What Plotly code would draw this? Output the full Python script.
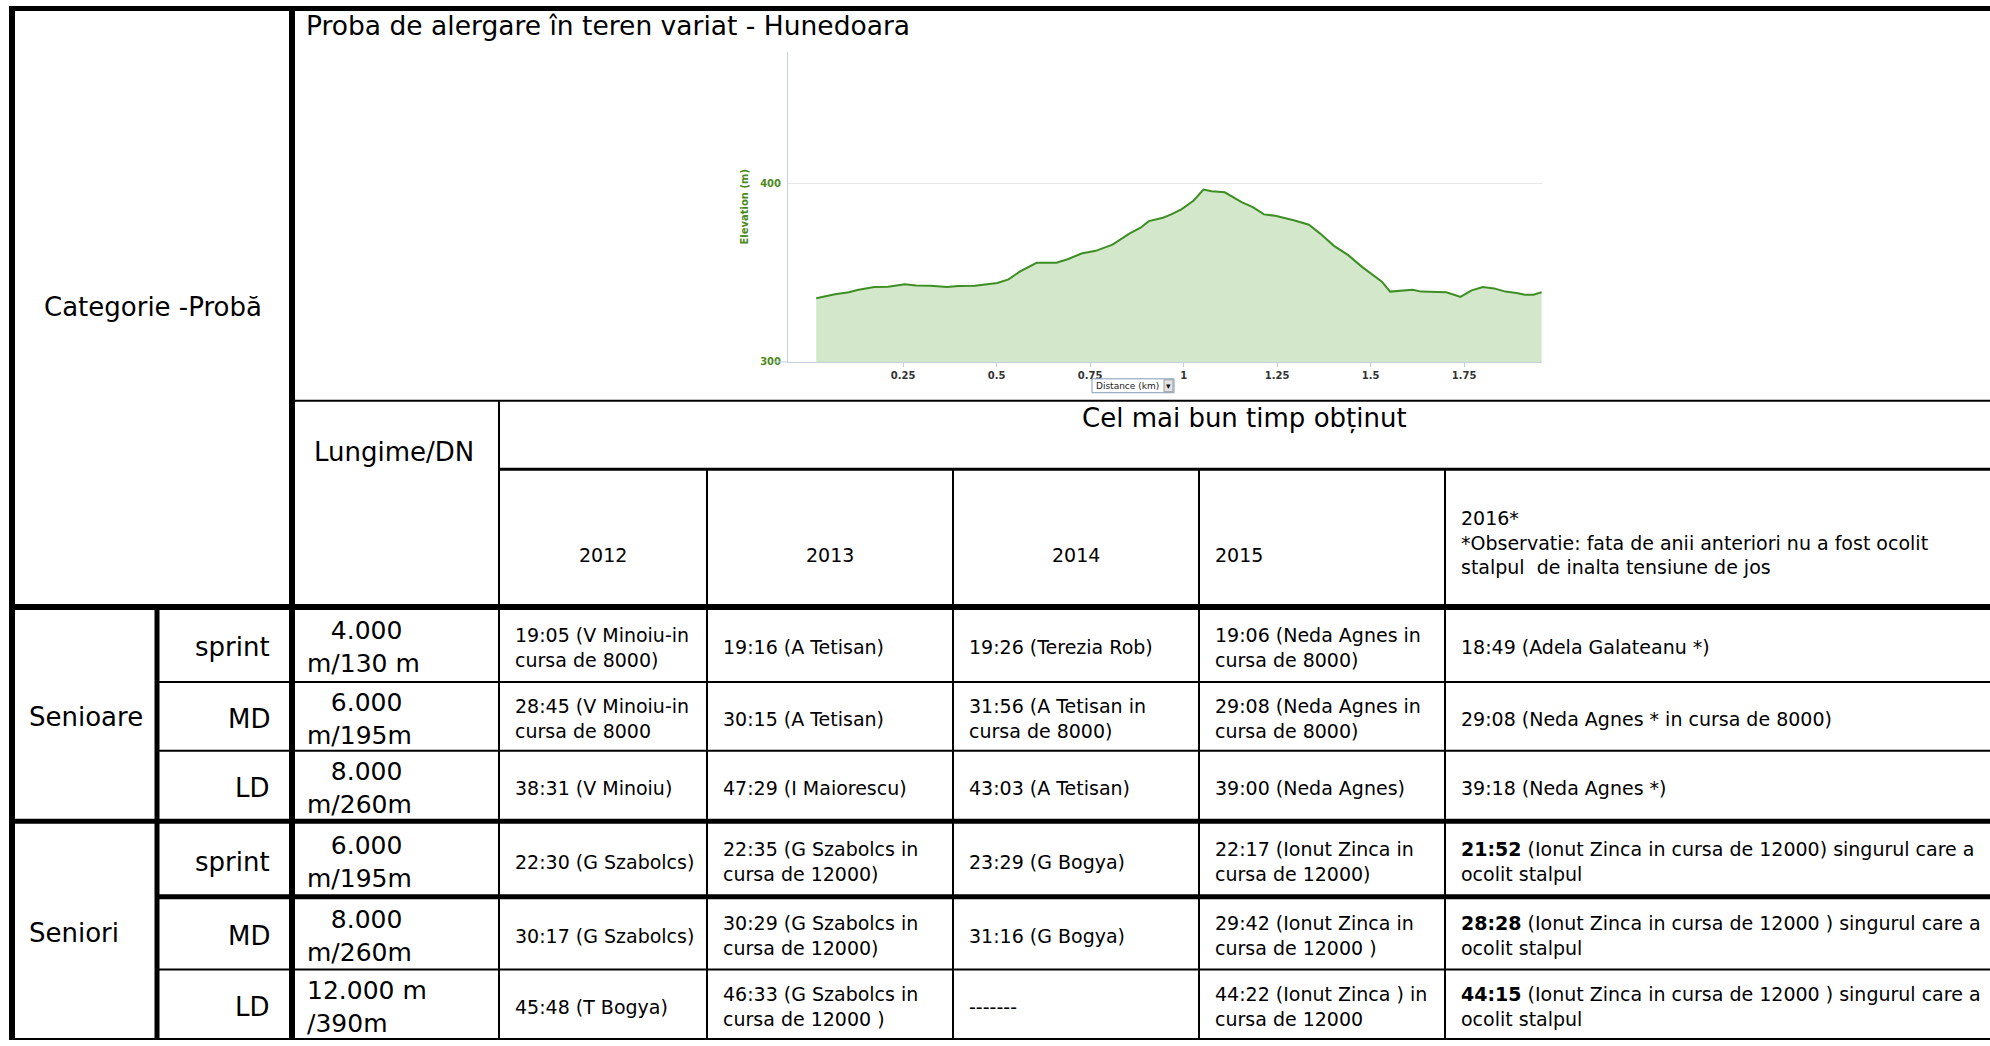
import plotly.graph_objects as go

W, H = 1990, 1046

# ---------------- data ----------------
distance_km = [0.018, 0.068, 0.105, 0.128, 0.173, 0.21, 0.255, 0.285, 0.323, 0.368,
               0.397, 0.442, 0.502, 0.532, 0.562, 0.607, 0.66, 0.69, 0.727, 0.765,
               0.81, 0.855, 0.885, 0.907, 0.945, 0.967, 0.994, 1.027, 1.053, 1.075,
               1.11, 1.155, 1.185, 1.215, 1.245, 1.275, 1.297, 1.335, 1.365, 1.402,
               1.44, 1.477, 1.507, 1.53, 1.552, 1.582, 1.612, 1.635, 1.672, 1.702,
               1.725, 1.74, 1.77, 1.8, 1.83, 1.86, 1.89, 1.912, 1.935, 1.957]
elevation_m = [335.8, 338.0, 339.1, 340.4, 342.1, 342.3, 343.6, 343.0, 342.8, 342.1,
               342.6, 342.8, 344.3, 346.4, 350.7, 355.7, 355.7, 357.7, 360.9, 362.4,
               365.9, 372.1, 375.4, 379.1, 381.0, 382.9, 385.7, 390.7, 396.8, 395.9,
               395.3, 389.8, 387.0, 382.9, 382.1, 380.8, 379.5, 377.1, 372.1, 365.2,
               360.0, 353.4, 348.8, 345.1, 339.5, 340.0, 340.6, 339.5, 339.5, 339.1,
               337.6, 336.5, 340.2, 342.1, 341.3, 339.5, 338.7, 337.8, 337.8, 339.1]
x_tick_vals = [0.25, 0.5, 0.75, 1, 1.25, 1.5, 1.75]
x_tick_labels = ["0.25", "0.5", "0.75", "1", "1.25", "1.5", "1.75"]
y_tick_vals = [300, 400]
y_tick_labels = ["300", "400"]

title_text = "Proba de alergare în teren variat - Hunedoara"
corner_label = "Categorie -Probă"
length_header = "Lungime/DN"
best_header = "Cel mai bun timp obținut"
x_title = "Distance (km)"
y_title = "Elevation (m)"

years = ["2012", "2013", "2014", "2015", "2016*"]
note_2016 = "*Observatie: fata de anii anteriori nu a fost ocolit\nstalpul  de inalta tensiune de jos"

categories = ["Senioare", "Seniori"]
probes = ["sprint", "MD", "LD", "sprint", "MD", "LD"]
lengths = ["   4.000\nm/130 m", "   6.000\nm/195m", "   8.000\nm/260m",
           "   6.000\nm/195m", "   8.000\nm/260m", "12.000 m\n/390m"]

res_2012 = ["19:05 (V Minoiu-in\ncursa de 8000)", "28:45 (V Minoiu-in\ncursa de 8000",
            "38:31 (V Minoiu)", "22:30 (G Szabolcs)", "30:17 (G Szabolcs)", "45:48 (T Bogya)"]
res_2013 = ["19:16 (A Tetisan)", "30:15 (A Tetisan)", "47:29 (I Maiorescu)",
            "22:35 (G Szabolcs in\ncursa de 12000)", "30:29 (G Szabolcs in\ncursa de 12000)",
            "46:33 (G Szabolcs in\ncursa de 12000 )"]
res_2014 = ["19:26 (Terezia Rob)", "31:56 (A Tetisan in\ncursa de 8000)", "43:03 (A Tetisan)",
            "23:29 (G Bogya)", "31:16 (G Bogya)", "-------"]
res_2015 = ["19:06 (Neda Agnes in\ncursa de 8000)", "29:08 (Neda Agnes in\ncursa de 8000)",
            "39:00 (Neda Agnes)", "22:17 (Ionut Zinca in\ncursa de 12000)",
            "29:42 (Ionut Zinca in\ncursa de 12000 )", "44:22 (Ionut Zinca ) in\ncursa de 12000"]
res_2016 = ["18:49 (Adela Galateanu *)", "29:08 (Neda Agnes * in cursa de 8000)",
            "39:18 (Neda Agnes *)",
            "21:52 (Ionut Zinca in cursa de 12000) singurul care a\nocolit stalpul",
            "28:28 (Ionut Zinca in cursa de 12000 ) singurul care a\nocolit stalpul",
            "44:15 (Ionut Zinca in cursa de 12000 ) singurul care a\nocolit stalpul"]
results = [res_2012, res_2013, res_2014, res_2015, res_2016]

# ---------------- layout constants (pixels) ----------------
FONT = "DejaVu Sans"
X_LEFT, X_CAT, X_PROBE, X_LEN = 12, 157, 292, 499
X_YEARS = [499, 707, 953, 1199, 1445, 1990]
Y_TOP, Y_CHART_BOT, Y_SUB, Y_HEAD = 8.5, 403, 472, 610.5
Y_ROWS = [610.5, 686, 755, 826, 902, 975, 1045]
bold_2016 = [False, False, False, True, True, True]
year_align = ["center", "center", "center", "left", "left"]

GREEN = "#3d8e23"
AXIS_C = "#c0d0e0"
ROW_SHIFT = 2.5


def px(x):
    return x / W


def py(y):
    return 1 - y / H


def fmt(s):
    out = []
    for ln in s.split("\n"):
        n = len(ln) - len(ln.lstrip(" "))
        out.append("\u00a0" * n + ln.lstrip(" "))
    return "<br>".join(out)


annotations = []


def txt(x, y, s, size, xanchor="left", align="left", color="black", weight="normal"):
    annotations.append(dict(
        x=px(x), y=py(y), xref="paper", yref="paper", text=s, showarrow=False,
        xanchor=xanchor, yanchor="middle", align=align,
        font=dict(family=FONT, size=size, color=color, weight=weight)))


shapes = []


def line(x0, y0, x1, y1, w, color="black"):
    shapes.append(dict(type="line", xref="paper", yref="paper",
                       x0=px(x0), y0=py(y0), x1=px(x1), y1=py(y1),
                       line=dict(color=color, width=w), layer="above"))


# ---------------- figure ----------------
fig = go.Figure()
fig.add_trace(go.Scatter(
    x=distance_km, y=elevation_m, mode="lines",
    line=dict(color=GREEN, width=2), fill="tozeroy", fillcolor="#d3e7cb",
    hoverinfo="skip", showlegend=False))

# grid lines of the table
line(X_LEFT - 3, Y_TOP, W, Y_TOP, 5)
line(X_PROBE, Y_CHART_BOT, W, Y_CHART_BOT, 2)
line(X_LEN, Y_SUB, W, Y_SUB, 3)
line(X_LEFT - 3, Y_HEAD, W, Y_HEAD, 6)
row_w = [2, 2, 5, 5, 2, 2]
row_x0 = [X_CAT, X_CAT, X_LEFT - 3, X_CAT, X_CAT, X_LEFT - 3]
for yy, ww, xx in zip(Y_ROWS[1:], row_w, row_x0):
    line(xx, yy, W, yy, ww)
line(X_LEFT, Y_TOP - 2.5, X_LEFT, H, 6)
line(X_CAT, Y_HEAD, X_CAT, H, 5)
line(X_PROBE, Y_TOP - 2.5, X_PROBE, H, 6)
line(X_LEN, Y_CHART_BOT, X_LEN, H, 2)
for xx in X_YEARS[1:-1]:
    line(xx, Y_SUB, xx, H, 2)

# header texts
txt(304, 25.5, title_text, 26.5)
txt(42, 309, corner_label, 26)
txt(312, 455, length_header, 26)
txt((X_LEN + W) / 2, 421, best_header, 26, xanchor="center")
for i, yr in enumerate(years):
    cx0, cx1 = X_YEARS[i], X_YEARS[i + 1]
    label = yr
    if i == len(years) - 1:
        label = yr + "\n" + note_2016
    if year_align[i] == "center":
        txt((cx0 + cx1) / 2, 558, fmt(label), 19, xanchor="center", align="center")
    else:
        txt(cx0 + 14, 546 if i == len(years) - 1 else 558, fmt(label), 19)

# category / probe / length columns
cat_rows = [(Y_ROWS[0], Y_ROWS[3]), (Y_ROWS[3], Y_ROWS[6])]
for c, (a, b) in zip(categories, cat_rows):
    txt(27, (a + b) / 2 + ROW_SHIFT, c, 26)
for r in range(6):
    yc = (Y_ROWS[r] + Y_ROWS[r + 1]) / 2 + ROW_SHIFT
    txt(272, yc, probes[r], 26, xanchor="right", align="right")
    txt(305, yc, fmt(lengths[r]), 25)
    for i, col in enumerate(results):
        s = col[r]
        if i == len(results) - 1 and bold_2016[r]:
            t, rest = s.split(" ", 1)
            s = "<b>" + t + "</b> " + rest
        txt(X_YEARS[i] + 14, yc, fmt(s), 19)

# elevation chart extras: baseline stub + dropdown box
line(773, 364, 788, 364, 1, AXIS_C)
shapes.append(dict(type="rect", xref="paper", yref="paper",
                   x0=px(1092), y0=py(381), x1=px(1174), y1=py(395),
                   line=dict(color="#7f9db9", width=1), fillcolor="white", layer="above"))
shapes.append(dict(type="rect", xref="paper", yref="paper",
                   x0=px(1164), y0=py(382), x1=px(1173), y1=py(394),
                   line=dict(color="#9a9a9a", width=1), fillcolor="#e4e4e4", layer="above"))
txt(1094, 388, x_title, 9, color="#222")
txt(1168.5, 388, "▾", 9, xanchor="center", align="center", color="#111")

fig.update_layout(
    width=W, height=H, margin=dict(l=0, r=0, t=0, b=0),
    paper_bgcolor="white", plot_bgcolor="white",
    shapes=shapes, annotations=annotations, showlegend=False,
    xaxis=dict(domain=[px(788), px(1542)], range=[-0.0575, 1.958],
               tickvals=x_tick_vals, ticktext=x_tick_labels,
               showgrid=False, zeroline=False, showline=True, linecolor=AXIS_C, linewidth=1,
               ticks="outside", ticklen=4, tickcolor=AXIS_C,
               tickfont=dict(family=FONT, size=10, color="#333", weight="bold"),
               fixedrange=True),
    yaxis=dict(domain=[py(364), py(52)], range=[300, 474.3],
               tickvals=y_tick_vals, ticktext=y_tick_labels,
               showgrid=True, gridcolor="#e8e8e8", zeroline=False,
               showline=True, linecolor=AXIS_C, linewidth=1, ticks="",
               ticklabelstandoff=4,
               tickfont=dict(family=FONT, size=10, color="#4b8b1c", weight="bold"),
               title=dict(text=y_title, standoff=9,
                          font=dict(family=FONT, size=10, color="#4b8b1c", weight="bold")),
               fixedrange=True),
)

fig.write_html("out.html", config={"displayModeBar": False},
               post_script="document.body.style.margin='0';document.body.style.overflow='hidden';")
